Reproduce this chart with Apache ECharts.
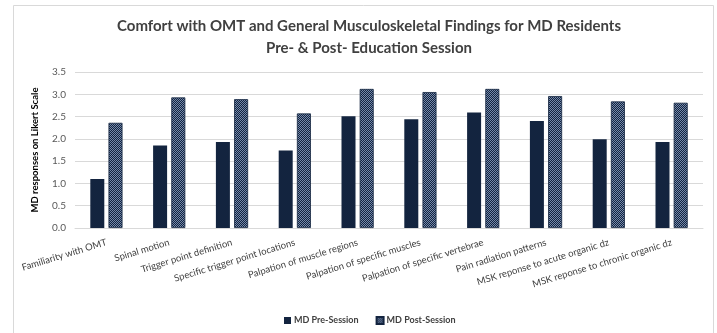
<!DOCTYPE html>
<html>
<head>
<meta charset="utf-8">
<script src="https://cdn.jsdelivr.net/npm/echarts@6/dist/echarts.min.js"></script>
<style>
  html, body { margin: 0; padding: 0; background: #fff; }
  #chart { width: 717px; height: 333px; }
</style>
</head>
<body>
<div id="chart"></div>
<script>
// Survey items (x-axis categories)
const categories = [
  'Familiarity with OMT',
  'Spinal motion',
  'Trigger point definition',
  'Specific trigger point locations',
  'Palpation of muscle regions',
  'Palpation of specific muscles',
  'Palpation of specific vertebrae',
  'Pain radiation patterns',
  'MSK reponse to acute organic dz',
  'MSK reponse to chronic organic dz'
];

// Mean Likert responses
const preSession  = [1.10, 1.85, 1.93, 1.74, 2.51, 2.44, 2.59, 2.40, 1.99, 1.93];
const postSession = [2.36, 2.93, 2.89, 2.57, 3.12, 3.05, 3.12, 2.96, 2.84, 2.81];

// Y-axis scale
const yMin = 0;
const yMax = 3.5;
const yStep = 0.5;

const NAVY = '#13243f';

// Small checkered tile used to fill the post-session bars
function checkerPattern() {
  const c = document.createElement('canvas');
  c.width = 2; c.height = 2;
  const g = c.getContext('2d');
  g.fillStyle = NAVY;
  g.fillRect(0, 0, 2, 2);
  g.fillStyle = '#7589ab';
  g.fillRect(0, 0, 1, 1);
  g.fillRect(1, 1, 1, 1);
  return { image: c, repeat: 'repeat' };
}

const chart = echarts.init(document.getElementById('chart'), null, { renderer: 'canvas' });
const FONT = 'Lato, "Open Sans", sans-serif';

chart.setOption({
  animation: false,
  backgroundColor: '#fff',
  graphic: [{
    type: 'rect',
    shape: { x: 13.5, y: 5.5, width: 700, height: 340 },
    style: { fill: 'none', stroke: '#d9d9d9', lineWidth: 1 },
    silent: true
  }],
  title: {
    text: 'Comfort with OMT and General Musculoskeletal Findings for MD Residents\nPre- & Post- Education Session',
    left: 364,
    textAlign: 'center',
    top: 10,
    textStyle: {
      fontFamily: FONT,
      fontSize: 15,
      fontWeight: 'bold',
      color: '#404040',
      lineHeight: 22
    }
  },
  legend: {
    bottom: 3,
    left: 279,
    itemWidth: 7,
    itemHeight: 7,
    itemGap: 17,
    icon: 'rect',
    textStyle: { fontFamily: FONT, fontSize: 9, color: '#404040', fontWeight: 'bold', padding: [0, 0, 0, -2] },
    data: ['MD Pre-Session', 'MD Post-Session']
  },
  grid: { left: 75, right: 14, top: 72, bottom: 105, containLabel: false },
  xAxis: {
    type: 'category',
    data: categories,
    axisTick: { show: false },
    axisLine: { show: true, lineStyle: { color: '#d9d9d9' } },
    axisLabel: {
      rotate: 17,
      interval: 0,
      margin: 14,
      fontFamily: FONT,
      fontSize: 9.5,
      color: '#404040'
    }
  },
  yAxis: {
    type: 'value',
    min: yMin,
    max: yMax,
    interval: yStep,
    name: 'MD responses on Likert Scale',
    nameLocation: 'middle',
    nameGap: 35,
    nameTextStyle: { fontFamily: FONT, fontSize: 9.5, fontWeight: 'bold', color: '#000' },
    axisLine: { show: false },
    axisTick: { show: false },
    axisLabel: {
      margin: 9,
      fontFamily: FONT,
      fontSize: 10,
      color: '#595959',
      formatter: v => v.toFixed(1)
    },
    splitLine: { lineStyle: { color: '#d9d9d9' } }
  },
  series: [
    {
      name: 'MD Pre-Session',
      type: 'bar',
      data: preSession,
      barWidth: 14,
      barGap: '30%',
      itemStyle: { color: NAVY }
    },
    {
      name: 'MD Post-Session',
      type: 'bar',
      data: postSession,
      barWidth: 14,
      itemStyle: { color: checkerPattern(), borderColor: NAVY, borderWidth: 0.8 }
    }
  ]
});
</script>
</body>
</html>
